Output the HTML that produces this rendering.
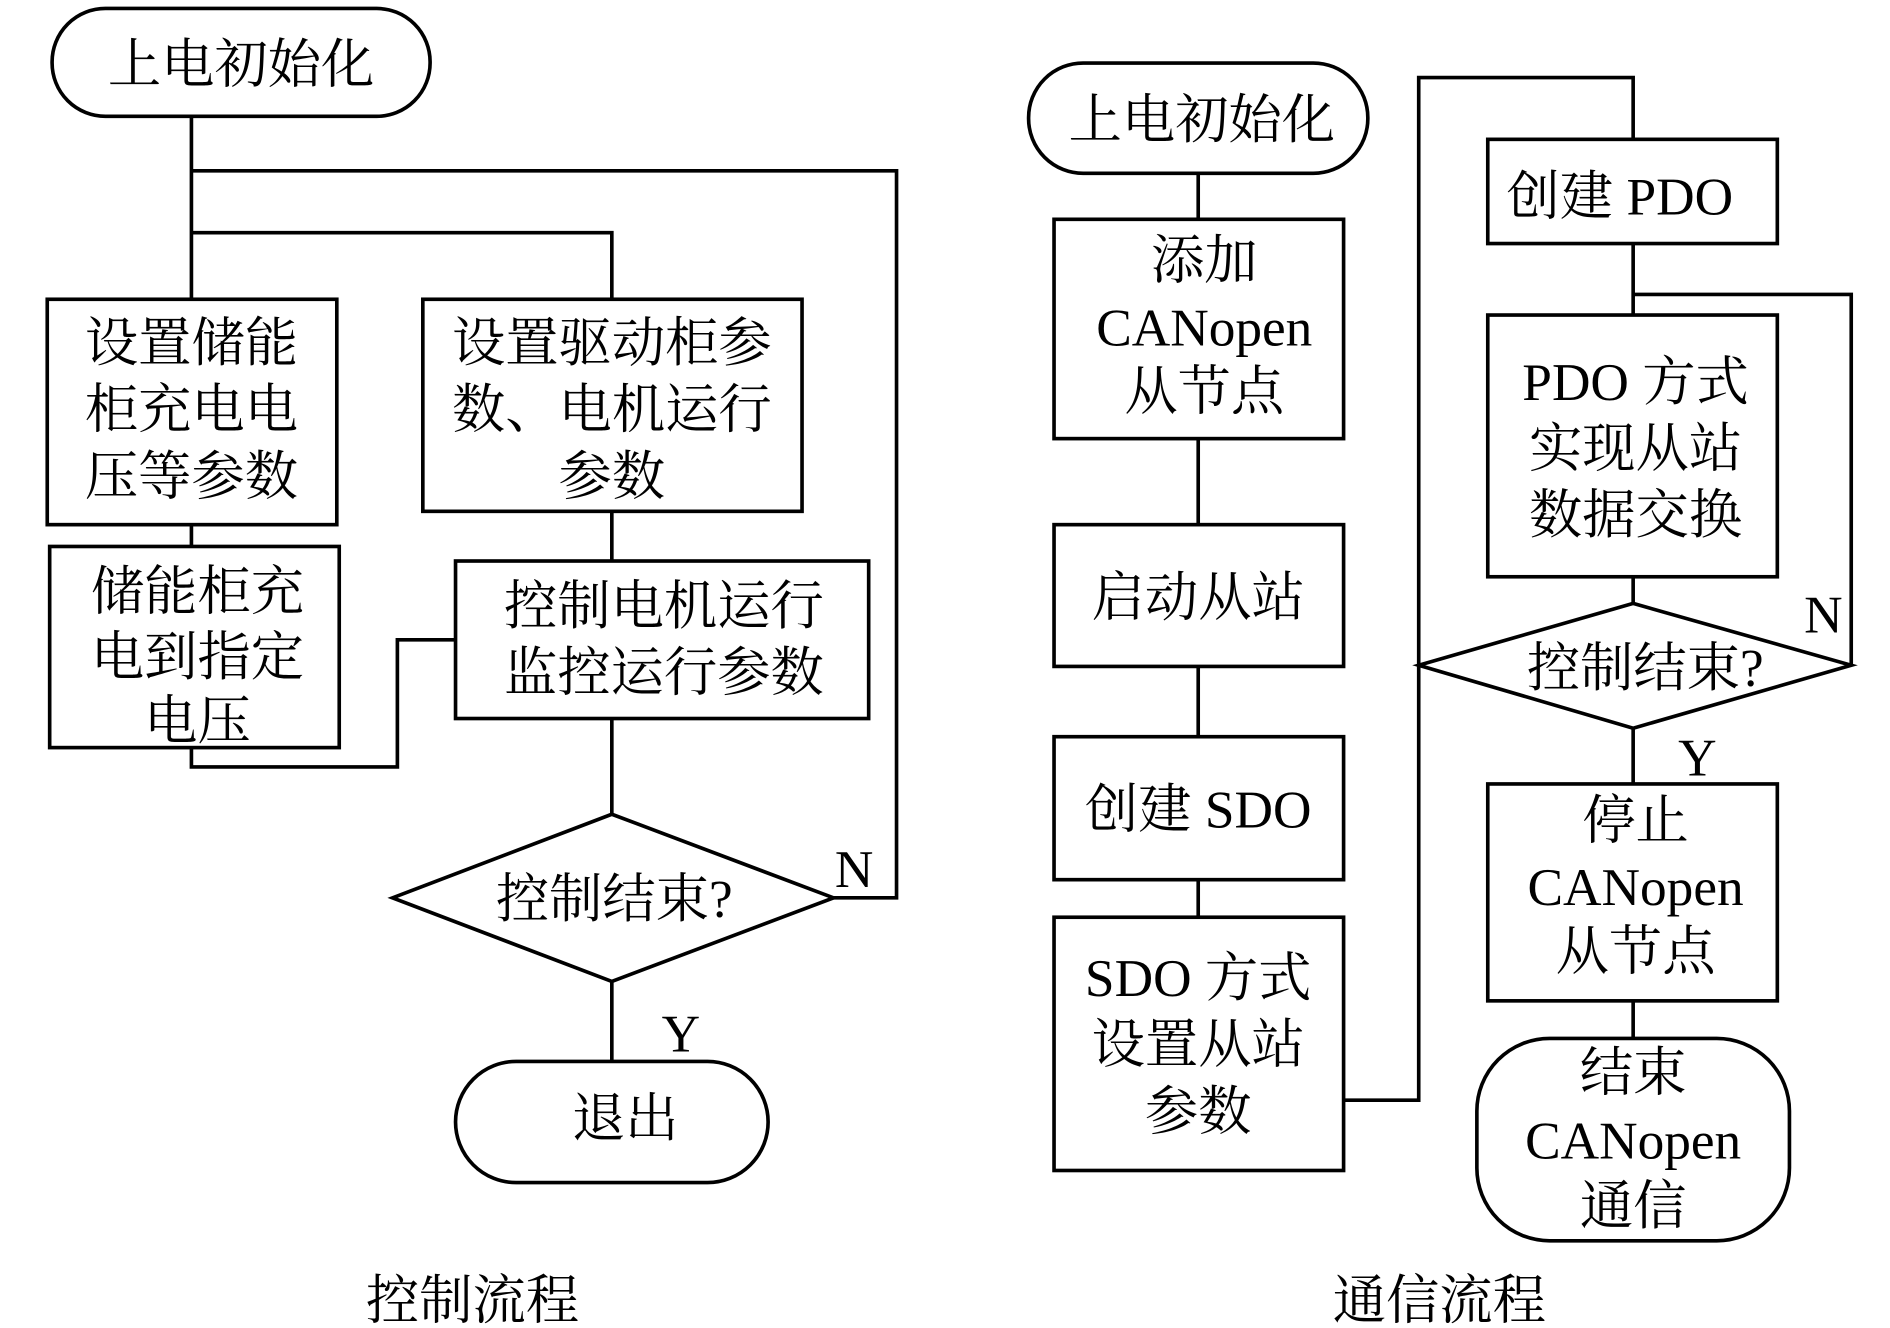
<!DOCTYPE html>
<html><head><meta charset="utf-8"><style>
html,body{margin:0;padding:0;background:#fff;}
svg{display:block;}
text{font-family:"Liberation Serif","Noto Serif CJK SC","Noto Sans CJK SC",serif;font-size:44px;fill:#000;text-anchor:middle;}
</style></head><body>
<svg width="1890" height="1328" viewBox="0 0 1560 1096" preserveAspectRatio="none" xmlns="http://www.w3.org/2000/svg">
<g fill="none" stroke="#000" stroke-width="3">
<!-- left -->
<rect x="43" y="7" width="312" height="89" rx="44"/>
<path d="M158 96 V247 M158 141 H740 V741 H688 M158 192 H505 V247"/>
<rect x="39" y="247" width="239" height="186"/>
<rect x="349" y="247" width="313" height="175"/>
<rect x="41" y="451" width="239" height="166"/>
<rect x="376" y="463" width="341" height="130"/>
<path d="M158 433 V451 M158 617 V633 H328 V528 H376 M505 422 V463 M505 593 V672"/>
<polygon points="505,672 688,741 505,810 324,741"/>
<path d="M505 810 V876"/>
<rect x="376" y="876" width="258" height="100" rx="50"/>
<!-- right -->
<rect x="849" y="52" width="280" height="91" rx="45"/>
<path d="M989 143 V181 M989 362 V433 M989 550 V608 M989 726 V757"/>
<rect x="870" y="181" width="239" height="181"/>
<rect x="870" y="433" width="239" height="117"/>
<rect x="870" y="608" width="239" height="118"/>
<rect x="870" y="757" width="239" height="209"/>
<path d="M1109 908 H1171 V64 H1348 V115"/>
<rect x="1228" y="115" width="239" height="86"/>
<path d="M1348 201 V260 M1348 243 H1528 V549 M1348 476 V498"/>
<rect x="1228" y="260" width="239" height="216"/>
<polygon points="1348,498 1528,549 1348,601 1171,549"/>
<path d="M1348 601 V647 M1348 826 V857"/>
<rect x="1228" y="647" width="239" height="179"/>
<rect x="1219" y="857" width="258" height="167" rx="60"/>
</g>
<text x="199" y="68">上电初始化</text>
<text x="158" y="298">设置储能</text>
<text x="158" y="353">柜充电电</text>
<text x="158" y="408">压等参数</text>
<text x="505" y="298">设置驱动柜参</text>
<text x="505" y="353">数、电机运行</text>
<text x="505" y="408">参数</text>
<text x="163" y="503">储能柜充</text>
<text x="163" y="557">电到指定</text>
<text x="163" y="610">电压</text>
<text x="548" y="515">控制电机运行</text>
<text x="548" y="570">监控运行参数</text>
<text x="507" y="757">控制结束?</text>
<text x="705" y="732">N</text>
<text x="562" y="868">Y</text>
<text x="516" y="938">退出</text>
<text x="390" y="1088">控制流程</text>
<text x="992" y="114">上电初始化</text>
<text x="994" y="230">添加</text>
<text x="994" y="285">CANopen</text>
<text x="994" y="338">从节点</text>
<text x="989" y="508">启动从站</text>
<text x="989" y="683">创建 SDO</text>
<text x="989" y="822">SDO 方式</text>
<text x="989" y="877">设置从站</text>
<text x="989" y="932">参数</text>
<text x="1337" y="177">创建 PDO</text>
<text x="1350" y="330">PDO 方式</text>
<text x="1350" y="385">实现从站</text>
<text x="1350" y="440">数据交换</text>
<text x="1358" y="566">控制结束?</text>
<text x="1505" y="522">N</text>
<text x="1401" y="640">Y</text>
<text x="1350" y="692">停止</text>
<text x="1350" y="747">CANopen</text>
<text x="1350" y="800">从节点</text>
<text x="1348" y="900">结束</text>
<text x="1348" y="956">CANopen</text>
<text x="1348" y="1010">通信</text>
<text x="1188" y="1088">通信流程</text>
</svg>
</body></html>
